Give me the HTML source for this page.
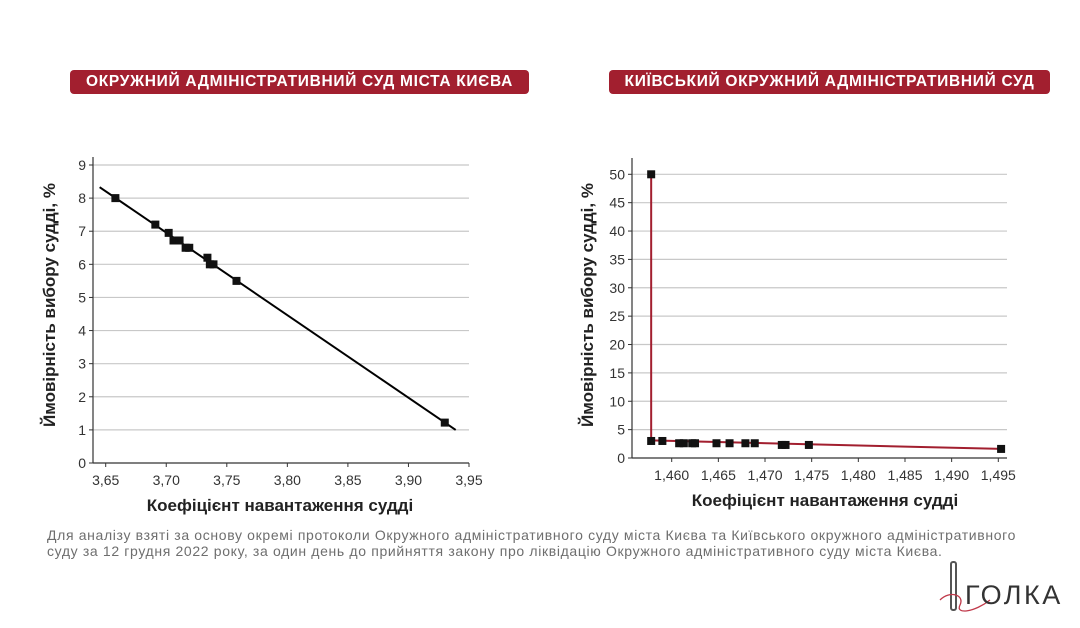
<!DOCTYPE html>
<html><head><meta charset="utf-8">
<style>
body{margin:0;width:1080px;height:628px;background:#fff;overflow:hidden;position:relative;font-family:"Liberation Sans",sans-serif}
.title{position:absolute;top:70px;height:24px;background:#a21f2f;color:#fff;font-weight:bold;font-size:15.5px;line-height:24px;text-align:center;border-radius:4px;letter-spacing:0.7px;white-space:nowrap}
.note{position:absolute;left:47px;top:527px;width:1030px;font-size:14px;color:#6e6e6e;line-height:16px;letter-spacing:0.65px;white-space:nowrap}
svg{position:absolute;left:0;top:0}
</style></head><body>
<div class="title" style="left:70px;width:459px">ОКРУЖНИЙ АДМІНІСТРАТИВНИЙ СУД МІСТА КИЄВА</div>
<div class="title" style="left:609px;width:441px">КИЇВСЬКИЙ ОКРУЖНИЙ АДМІНІСТРАТИВНИЙ СУД</div>
<div class="note">Для аналізу взяті за основу окремі протоколи Окружного адміністративного суду міста Києва та Київського окружного адміністративного<br>суду за 12 грудня 2022 року, за один день до прийняття закону про ліквідацію Окружного адміністративного суду міста Києва.</div>
<svg width="1080" height="628" id="svg">
<g>
<rect x="951" y="562" width="5" height="48" rx="2" fill="none" stroke="#555" stroke-width="2"/>
<path d="M940 600 C950 590,965 595,960 605 C955 615,975 612,990 600" fill="none" stroke="#c0394a" stroke-width="1.3"/>
<text x="965" y="604" font-size="27" fill="#333" font-family="Liberation Sans,sans-serif" letter-spacing="2.5">ГОЛКА</text>
</g>
</svg>
<script>
const leftX=[3.658,3.691,3.702,3.706,3.711,3.716,3.719,3.734,3.736,3.739,3.758,3.930];
const leftY=[8.0,7.2,6.95,6.72,6.72,6.5,6.5,6.2,6.0,6.0,5.5,1.22];
const leftFitX=[3.645,3.939];
const leftFitY=[8.33,1.0];
const leftXTicks=[3.65,3.70,3.75,3.80,3.85,3.90,3.95];
const leftYTicks=[0,1,2,3,4,5,6,7,8,9];
const rightX=[1.4578,1.4578,1.4590,1.4608,1.4613,1.4622,1.4625,1.4648,1.4662,1.4679,1.4689,1.4718,1.4722,1.4747,1.4953];
const rightY=[50,3.0,3.0,2.6,2.6,2.6,2.6,2.6,2.6,2.6,2.6,2.3,2.3,2.3,1.6];
const rightLineX=[1.4578,1.4578,1.4953];
const rightLineY=[50,3.1,1.6];
const rightXTicks=[1.460,1.465,1.470,1.475,1.480,1.485,1.490,1.495];
const rightYTicks=[0,5,10,15,20,25,30,35,40,45,50];
const NS="http://www.w3.org/2000/svg",svg=document.getElementById('svg');
function el(t,a,p){const e=document.createElementNS(NS,t);for(const k in a)e.setAttribute(k,a[k]);(p||svg).appendChild(e);return e;}
function chart(o){
  const g=el('g',{});
  
  
  const sx=v=>o.x0+(v-o.xa)/(o.xb-o.xa)*(o.x1-o.x0);
  const sy=v=>o.y0-(v-o.ya)/(o.yb-o.ya)*(o.y0-o.y1);
  o.yTicks.forEach(t=>{
    if(t>0){const l=el('line',{x1:o.ax,x2:o.gx,y1:sy(t),y2:sy(t),stroke:'#c8c8c8','stroke-width':1.2},g);
    }
    el('line',{x1:o.ax-4,x2:o.ax,y1:sy(t),y2:sy(t),stroke:'#333'},g);
    const tx=el('text',{x:o.ax-7,y:sy(t)+5,'text-anchor':'end','font-size':14,fill:'#333'},g);tx.textContent=String(t).replace('.',',');
    
  });
  el('line',{x1:o.ax,x2:o.ax,y1:o.top,y2:o.y0,stroke:'#333','stroke-width':1.2},g);
  el('line',{x1:o.ax,x2:o.gx,y1:o.y0,y2:o.y0,stroke:'#333','stroke-width':1.2},g);
  o.xTicks.forEach(t=>{
    el('line',{x1:sx(t),x2:sx(t),y1:o.y0,y2:o.y0+4,stroke:'#333'},g);
    const tx=el('text',{x:sx(t),y:o.y0+22,'text-anchor':'middle','font-size':14,fill:'#333'},g);tx.textContent=t.toFixed(o.dec).replace('.',',');
    
  });
  const pts=o.lx.map((v,i)=>sx(v)+','+sy(o.ly[i])).join(' ');
  const pl=el('polyline',{points:pts,fill:'none',stroke:o.lc,'stroke-width':2},g);
  
  o.px.forEach((v,i)=>{const r=el('rect',{x:sx(v)-4,y:sy(o.py[i])-4,width:8,height:8,fill:'#111'},g);
    });
  const xt=el('text',{x:o.xtx,y:o.y0+48,'text-anchor':'middle','font-size':17,'font-weight':'bold',fill:'#222'},g);xt.textContent='Коефіцієнт навантаження судді';
  
  const yt=el('text',{transform:`translate(${o.ytx},${o.yty}) rotate(-90)`,'text-anchor':'middle','font-size':17,'font-weight':'bold',fill:'#222'},g);yt.textContent='Ймовірність вибору судді, %';
  
}
chart({name:'left-chart',xa:3.65,xb:3.95,x0:105.7,x1:469,ya:0,yb:9,y0:463,y1:165,ax:93,gx:469,top:157,dec:2,
  xTicks:leftXTicks,yTicks:leftYTicks,px:leftX,py:leftY,lx:leftFitX,ly:leftFitY,lc:'#000',xtx:280,ytx:55,yty:305});
chart({name:'right-chart',xa:1.460,xb:1.495,x0:671.7,x1:998.3,ya:0,yb:50,y0:458,y1:174.3,ax:632,gx:1007,top:158,dec:3,
  xTicks:rightXTicks,yTicks:rightYTicks,px:rightX,py:rightY,lx:rightLineX,ly:rightLineY,lc:'#a21f2f',xtx:825,ytx:593,yty:305});
</script>
</body></html>
